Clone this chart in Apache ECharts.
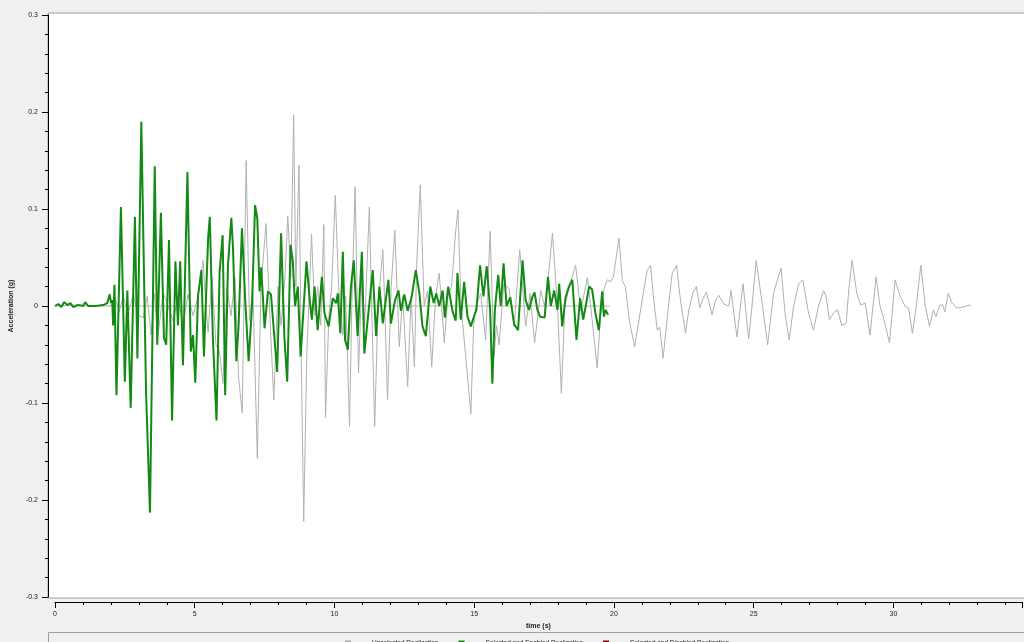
<!DOCTYPE html>
<html>
<head>
<meta charset="utf-8">
<script src="https://cdn.jsdelivr.net/npm/echarts@6/dist/echarts.min.js"></script>
<style>
html,body{margin:0;padding:0;background:#f0f0f0;}
#chart{width:1024px;height:642px;}
</style>
</head>
<body>
<div id="chart"></div>
<script>
// ---- data (time in s, acceleration in g) ----
const seriesNames = ["Unselected Realization", "Selected and Enabled Realization", "Selected and Disabled Realization"];
const yTicks = [-0.3, -0.2, -0.1, 0, 0.1, 0.2, 0.3];
const xTicks = [0, 5, 10, 15, 20, 25, 30];

const greyTime = [0,0.65,1.37,2.01,2.15,2.30,2.44,2.62,2.80,2.98,3.16,3.30,3.44,3.55,3.69,3.87,4.05,4.23,4.40,4.58,4.76,4.94,5.12,5.30,5.40,5.48,5.62,5.76,5.89,6.01,6.15,6.30,6.44,6.57,6.70,6.84,6.96,7.08,7.24,7.37,7.55,7.69,7.83,7.98,8.09,8.23,8.33,8.44,8.54,8.62,8.73,8.81,8.90,9.01,9.18,9.30,9.40,9.51,9.62,9.68,9.80,9.90,10.03,10.15,10.30,10.40,10.54,10.62,10.74,10.86,10.98,11.08,11.25,11.33,11.44,11.56,11.73,11.80,11.90,12.03,12.16,12.32,12.44,12.62,12.74,12.86,12.94,13.07,13.21,13.33,13.48,13.62,13.75,13.93,14.06,14.19,14.34,14.42,14.53,14.69,14.88,14.98,15.06,15.23,15.41,15.57,15.71,15.80,15.89,16.06,16.25,16.43,16.63,16.84,17.00,17.16,17.38,17.52,17.64,17.80,17.98,18.12,18.24,18.43,18.63,18.69,18.81,19.05,19.22,19.40,19.52,19.64,19.76,19.88,19.98,20.18,20.30,20.41,20.55,20.74,20.86,21.01,21.19,21.31,21.40,21.55,21.64,21.76,21.90,22.08,22.24,22.38,22.56,22.68,22.83,22.95,23.07,23.19,23.31,23.51,23.64,23.75,23.93,24.11,24.19,24.40,24.62,24.82,24.94,25.09,25.24,25.50,25.71,25.83,25.98,26.12,26.27,26.43,26.61,26.76,26.96,27.14,27.32,27.50,27.58,27.71,27.86,28.00,28.15,28.31,28.40,28.52,28.69,28.83,28.99,29.16,29.38,29.52,29.66,29.86,30.06,30.24,30.41,30.54,30.68,30.83,30.98,31.14,31.29,31.43,31.52,31.66,31.76,31.84,31.96,32.08,32.26,32.50,32.72,32.78];
const greyAccel = [0,0.001,0,0,0.008,-0.006,0.01,-0.008,0.012,-0.01,-0.012,0.01,-0.03,0.013,-0.03,0.014,0,-0.016,0.01,-0.02,0.012,-0.01,0.01,0.047,0,-0.027,0.03,-0.04,-0.047,-0.08,0.02,-0.01,0.03,-0.074,-0.11,0.15,-0.015,0.02,-0.157,0.02,0.085,-0.01,-0.097,0.02,-0.02,0.03,0.093,0.03,0.197,0.02,0.145,-0.05,-0.222,-0.05,0.074,-0.01,0.02,-0.02,0.084,-0.115,-0.01,0.02,0.114,0.02,-0.03,0.01,-0.124,0,0.123,-0.069,0.03,-0.02,0.102,0,-0.124,0,0.058,0,-0.097,0.02,0.078,-0.042,0.01,-0.083,0.01,-0.063,0.04,0.125,0,0.015,-0.063,0.01,0.034,-0.038,0.01,0.02,0.078,0.099,0,-0.05,-0.111,-0.02,0,0.013,-0.035,0.077,-0.052,-0.02,-0.04,0.023,0.018,-0.021,0.058,-0.021,0.013,-0.038,0.016,0,0.026,0.075,0,-0.09,0,0.023,0.042,0.044,-0.005,0.029,-0.014,-0.064,-0.01,0.017,0.027,0.025,0.03,0.07,0.026,0.02,-0.015,-0.042,-0.021,0.006,0.037,0.042,0.013,-0.025,-0.022,-0.054,-0.014,0.033,0.042,0.006,-0.028,-0.004,0.014,0.02,-0.002,0.008,0.014,-0.009,0.006,0.011,0.002,0,0.016,-0.032,0.023,-0.034,0,0.047,0.016,-0.04,0.013,0.025,0.039,-0.007,-0.035,0,0.023,0.027,-0.007,-0.025,0,0.016,0.011,-0.014,-0.007,-0.004,-0.02,-0.018,0.016,0.047,0.013,0.001,0.003,-0.03,0.03,0,-0.014,-0.038,0.027,0.01,0,-0.002,-0.028,0.003,0.042,0,-0.021,-0.004,-0.011,0.001,0.001,-0.006,0.013,0.004,-0.002,-0.001,0.001,0];

const greenTime = [0,0.12,0.23,0.33,0.44,0.55,0.65,0.83,1.01,1.08,1.19,1.44,1.73,1.87,1.96,2.01,2.05,2.08,2.13,2.20,2.36,2.50,2.59,2.71,2.86,2.95,3.09,3.26,3.40,3.57,3.66,3.79,3.90,3.98,4.08,4.19,4.31,4.40,4.48,4.58,4.74,4.86,4.94,5.02,5.12,5.24,5.33,5.48,5.54,5.65,5.78,5.89,6.00,6.09,6.19,6.31,6.37,6.49,6.57,6.69,6.81,6.93,7.05,7.16,7.24,7.32,7.38,7.50,7.62,7.73,7.83,7.95,8.09,8.21,8.31,8.43,8.51,8.59,8.69,8.79,8.90,9.00,9.11,9.19,9.29,9.40,9.55,9.64,9.79,9.94,10.06,10.12,10.21,10.30,10.38,10.48,10.59,10.69,10.83,10.98,11.07,11.19,11.37,11.49,11.61,11.73,11.93,12.02,12.16,12.29,12.38,12.50,12.62,12.76,12.91,13.04,13.15,13.27,13.43,13.55,13.64,13.75,13.87,13.95,14.07,14.23,14.34,14.40,14.52,14.64,14.76,14.88,15.00,15.08,15.21,15.33,15.45,15.57,15.65,15.74,15.86,15.95,16.05,16.16,16.29,16.43,16.57,16.73,16.84,16.96,17.08,17.16,17.26,17.36,17.52,17.64,17.74,17.86,17.98,18.04,18.15,18.27,18.39,18.51,18.66,18.79,18.90,18.99,19.11,19.22,19.34,19.46,19.58,19.64,19.70,19.79];
const greenAccel = [0,0.002,-0.001,0.004,0.001,0.003,-0.001,0.001,0,0.004,0,0,0.001,0.003,0.012,0.003,0.006,-0.02,0.022,-0.092,0.102,-0.078,0.016,-0.105,0.092,-0.054,0.19,-0.09,-0.213,0.144,-0.04,0.096,-0.033,-0.04,0.068,-0.118,0.046,-0.02,0.046,-0.061,0.138,-0.047,-0.03,-0.079,0.011,0.037,-0.052,0.07,0.092,-0.033,-0.118,0.035,0.073,-0.092,0.042,0.091,0.06,-0.057,-0.02,0.08,0.004,-0.057,0,0.104,0.09,0.015,0.04,-0.023,0.015,0.012,-0.025,-0.068,0.075,-0.033,-0.078,0.063,0.046,0,0.02,-0.052,0,0.046,0.008,-0.014,0.02,-0.025,0.03,-0.007,-0.021,0.008,0.003,0.013,-0.028,0.056,-0.035,-0.045,0.02,0.047,-0.031,0.056,-0.049,-0.014,0.037,-0.031,0.02,-0.018,0.027,-0.018,0.005,0.016,-0.005,0.012,-0.005,0.009,0.037,0.013,-0.021,-0.031,0.02,0.003,0.013,0,0.016,-0.012,0.02,-0.006,-0.015,0.034,-0.014,0.025,-0.011,-0.021,-0.01,-0.004,0.042,0.01,0.041,-0.004,-0.08,-0.004,0.032,0,0.044,0,0.009,-0.019,-0.025,0.047,0.006,-0.004,0.009,0.014,-0.004,-0.011,-0.012,0.03,0,0.016,-0.004,0.023,-0.021,0.009,0.02,0.027,-0.035,0.008,-0.014,0,0.02,0.017,-0.008,-0.025,0.015,-0.011,-0.004,-0.009];

const baselineTime = [1.95, 19.85];
const baselineAccel = [0, 0];

// ---- build ----
const pair = (t, v) => t.map((x, i) => [x, v[i]]);
const chart = echarts.init(document.getElementById('chart'), null, {renderer: 'canvas'});
const font = 'Liberation Sans';
chart.setOption({
  animation: false,
  backgroundColor: '#f0f0f0',
  graphic: [
    {type: 'rect', z: -10, shape: {x: 48, y: 13, width: 980, height: 585}, style: {fill: '#ffffff', stroke: '#a0a0a0', lineWidth: 1}},
    {type: 'rect', z: -10, shape: {x: 48.5, y: 632.5, width: 980, height: 20}, style: {fill: '#f0f0f0', stroke: '#a0a0a0', lineWidth: 1}}
  ],
  grid: {left: 52, right: 2, top: 15, bottom: 45, containLabel: false},
  legend: {
    data: seriesNames,
    left: 340, top: 635,
    itemWidth: 6, itemHeight: 6, itemGap: 20,
    icon: 'rect',
    textStyle: {fontFamily: font, fontSize: 6.5, color: '#222', padding: [0, 0, 0, 16]}
  },
  xAxis: {
    type: 'value', min: 0, max: 34.6, interval: 5,
    offset: 5,
    name: 'time (s)', nameLocation: 'middle', nameGap: 19,
    nameTextStyle: {fontFamily: font, fontSize: 7, color: '#222', fontWeight: 'bold'},
    axisLine: {show: true, onZero: false, lineStyle: {color: '#000', width: 1}},
    axisTick: {show: true, length: 6, lineStyle: {color: '#000'}},
    minorTick: {show: true, splitNumber: 5, length: 3, lineStyle: {color: '#000'}},
    axisLabel: {fontFamily: font, fontSize: 7, color: '#222', margin: 9, showMaxLabel: false},
    splitLine: {show: false}
  },
  yAxis: {
    type: 'value', min: -0.3, max: 0.3, interval: 0.1,
    offset: 7,
    name: 'Acceleration (g)', nameLocation: 'middle', nameGap: 30, nameRotate: 90,
    nameTextStyle: {fontFamily: font, fontSize: 7, color: '#222', fontWeight: 'bold'},
    axisLine: {show: true, onZero: false, lineStyle: {color: '#000', width: 1}},
    axisTick: {show: true, length: 6, lineStyle: {color: '#000'}},
    minorTick: {show: true, splitNumber: 5, length: 3, lineStyle: {color: '#000'}},
    axisLabel: {fontFamily: font, fontSize: 7, color: '#222', margin: 10,
      formatter: v => String(Math.round(v * 10) / 10)},
    splitLine: {show: false}
  },
  series: [
    {name: seriesNames[0], type: 'line', data: pair(greyTime, greyAccel), showSymbol: false, symbol: 'none',
     color: '#a8a8a8', lineStyle: {width: 1, color: '#b0b0b0'}, z: 2},
    {name: 'baseline', type: 'line', data: pair(baselineTime, baselineAccel), showSymbol: false, symbol: 'none',
     color: '#a9bda9', lineStyle: {width: 1, color: '#a9bda9'}, z: 1},
    {name: seriesNames[1], type: 'line', data: pair(greenTime, greenAccel), showSymbol: false, symbol: 'none',
     color: '#118811', lineStyle: {width: 2, color: '#138a13'}, z: 3},
    {name: seriesNames[2], type: 'line', data: [], showSymbol: false, symbol: 'none',
     color: '#8b0000', lineStyle: {width: 1, color: '#8b0000'}}
  ]
});
</script>
</body>
</html>
